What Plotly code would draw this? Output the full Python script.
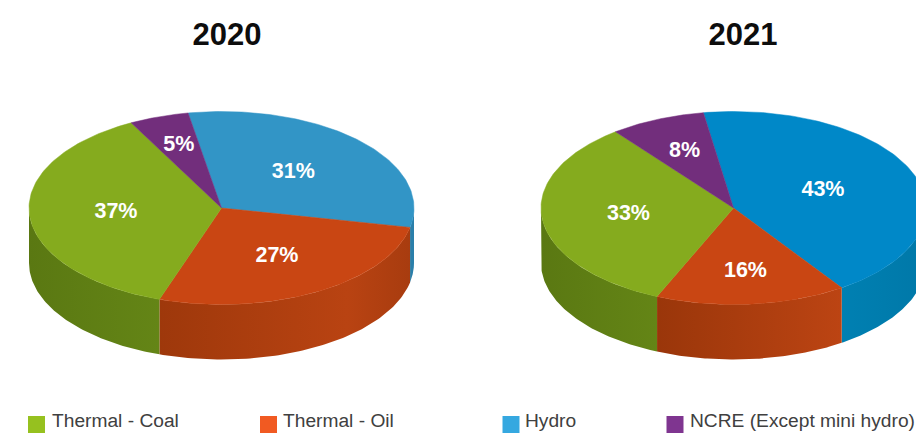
import numpy as np
import plotly.graph_objects as go

years = ["2020", "2021"]
categories = ["Thermal - Coal", "Thermal - Oil", "Hydro", "NCRE (Except mini hydro)"]
share_2020 = [37, 27, 31, 5]
share_2021 = [33, 16, 43, 8]

# Drawing order clockwise from the first slice edge: Hydro, Oil, Coal, NCRE
clockwise_order = [2, 1, 0, 3]

FONT = "Liberation Sans"
RX, RY, DEPTH = 192.5, 96.5, 55
CY = 208

TOP_COLORS = {
    "2020": ["#85AB1E", "#C94613", "#3295C6", "#722E7C"],
    "2021": ["#85AB1E", "#C94613", "#0088C8", "#722E7C"],
}
SIDE_SCALES = {
    "2020": [
        [[0, "#5A7812"], [1, "#648516"]],
        [[0, "#9E380B"], [0.75, "#B94312"], [1, "#A83C0F"]],
        [[0, "#2A7FAA"], [1, "#2A7FAA"]],
        [[0, "#5A2463"], [1, "#5A2463"]],
    ],
    "2021": [
        [[0, "#5A7812"], [1, "#648516"]],
        [[0, "#9A360A"], [1, "#BC4413"]],
        [[0, "#0080B2"], [1, "#0078A8"]],
        [[0, "#5A2463"], [1, "#5A2463"]],
    ],
}
LEGEND_COLORS = ["#96C11F", "#F15A22", "#35A8E0", "#7F3590"]

# Per-pie layout: centre, rotation of the first edge, label radius per category
PIES = {
    "2020": dict(cx=221.5, start=-10, shares=share_2020, title_x=227,
                 label_r=[0.55, 0.58, 0.52, 0.68]),
    "2021": dict(cx=733.5, start=-9, shares=share_2021, title_x=743,
                 label_r=[0.55, 0.66, 0.50, 0.64]),
}
LEGEND_X = [36.5, 268.5, 511, 675]
LEGEND_TEXT_X = [52, 283, 525, 690]
LEGEND_Y = 424.5


def ellipse(cx, angles_deg, cy=CY):
    """Points on the pie rim; angles run clockwise from twelve o'clock."""
    a = np.radians(angles_deg)
    return cx + RX * np.sin(a), cy - RY * np.cos(a)


fig = go.Figure()
label_x, label_y, label_text = [], [], []

for year in years:
    pie = PIES[year]
    cx = pie["cx"]
    edge = pie["start"]
    for idx in clockwise_order:
        sweep = pie["shares"][idx] * 3.6
        a0, a1 = edge, edge + sweep
        edge = a1

        # Visible outer wall: only the part of the rim on the front half
        lo, hi = max(a0, 90), min(a1, 270)
        if hi > lo:
            arc = np.linspace(lo, hi, 90)
            ux, uy = ellipse(cx, arc)
            bx, by = ellipse(cx, arc[::-1], CY + DEPTH)
            fig.add_trace(go.Scatter(
                x=np.r_[ux, bx, ux[0]], y=np.r_[uy, by, uy[0]],
                mode="lines", line=dict(width=0), fill="toself",
                fillgradient=dict(type="horizontal", colorscale=SIDE_SCALES[year][idx]),
                hoverinfo="skip", showlegend=False,
            ))

        # Top face of the slice
        arc = np.linspace(a0, a1, 120)
        tx, ty = ellipse(cx, arc)
        fig.add_trace(go.Scatter(
            x=np.r_[cx, tx, cx], y=np.r_[CY, ty, CY],
            mode="lines", line=dict(width=0.5, color=TOP_COLORS[year][idx]),
            fill="toself", fillcolor=TOP_COLORS[year][idx],
            hoverinfo="skip", showlegend=False,
        ))

        mid = np.radians((a0 + a1) / 2)
        r = pie["label_r"][idx]
        label_x.append(cx + RX * r * np.sin(mid))
        label_y.append(CY - RY * r * np.cos(mid))
        label_text.append(f"{pie['shares'][idx]}%")

fig.add_trace(go.Scatter(
    x=label_x, y=label_y, text=label_text, mode="text",
    textfont=dict(family=FONT, size=21.5, color="white", weight="bold"),
    textposition="middle center", hoverinfo="skip", showlegend=False,
))

fig.add_trace(go.Scatter(
    x=[PIES[y]["title_x"] for y in years], y=[37, 37], text=years, mode="text",
    textfont=dict(family=FONT, size=31, color="#0D0D0D", weight="bold"),
    textposition="middle center", hoverinfo="skip", showlegend=False,
))

# Legend row along the bottom edge
fig.add_trace(go.Scatter(
    x=LEGEND_X, y=[LEGEND_Y] * len(categories), mode="markers",
    marker=dict(symbol="square", size=17, color=LEGEND_COLORS, line=dict(width=0)),
    hoverinfo="skip", showlegend=False, cliponaxis=False,
))
fig.add_trace(go.Scatter(
    x=LEGEND_TEXT_X, y=[LEGEND_Y - 2] * len(categories), text=categories, mode="text",
    textposition="middle right",
    textfont=dict(family=FONT, size=19.2, color="#404040"),
    hoverinfo="skip", showlegend=False, cliponaxis=False,
))

fig.update_layout(
    width=916, height=434, margin=dict(l=0, r=0, t=0, b=0),
    paper_bgcolor="white", plot_bgcolor="white",
    xaxis=dict(range=[0, 916], visible=False, fixedrange=True),
    yaxis=dict(range=[434, 0], visible=False, fixedrange=True),
)
fig.write_html("out.html")
